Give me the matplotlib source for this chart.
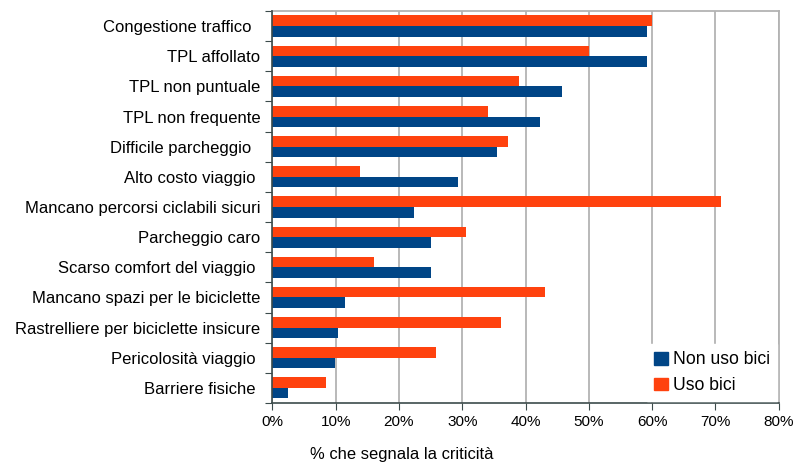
import matplotlib.pyplot as plt
import numpy as np
from matplotlib.patches import Patch
from matplotlib.ticker import PercentFormatter

plt.rcParams['font.family'] = ['Liberation Sans', 'DejaVu Sans']

categorie = [
    "Congestione traffico  ",
    "TPL affollato",
    "TPL non puntuale",
    "TPL non frequente",
    "Difficile parcheggio  ",
    "Alto costo viaggio ",
    "Mancano percorsi ciclabili sicuri",
    "Parcheggio caro",
    "Scarso comfort del viaggio ",
    "Mancano spazi per le biciclette",
    "Rastrelliere per biciclette insicure",
    "Pericolosità viaggio ",
    "Barriere fisiche ",
]
non_uso_bici = [59.2, 59.2, 45.8, 42.3, 35.5, 29.4, 22.3, 25.1, 25.1, 11.5, 10.4, 9.9, 2.4]
uso_bici = [60.0, 50.0, 38.9, 34.0, 37.3, 13.9, 70.9, 30.6, 16.0, 43.1, 36.2, 25.8, 8.5]

blu = "#004586"
arancio = "#ff420e"

fig = plt.figure(figsize=(7.94, 4.63), dpi=100)
ax = fig.add_axes([0.343, 0.1296, 0.6378, 0.8467])

y = np.arange(len(categorie))
h = 0.35
ax.barh(y - h / 2, uso_bici, height=h, color=arancio, zorder=3)
ax.barh(y + h / 2, non_uso_bici, height=h, color=blu, zorder=3)

ax.set_xlim(0, 80)
ax.set_ylim(len(categorie) - 0.5, -0.5)
ax.set_xticks(np.arange(0, 81, 10))
ax.xaxis.set_major_formatter(PercentFormatter(decimals=0))
ax.tick_params(axis='x', labelsize=11, length=5, color="#3c4b4b", pad=4)

# etichette in mezzo, tacche ai bordi delle categorie
ax.set_yticks(np.arange(len(categorie) + 1) - 0.5)
ax.set_yticklabels([])
ax.set_yticks(y, minor=True)
ax.set_yticklabels(categorie, minor=True, fontsize=12)
ax.tick_params(axis='y', which='major', length=5, color="#3c4b4b")
ax.tick_params(axis='y', which='minor', length=0, pad=8.6)

ax.grid(axis='x', color="#b3b3b3", linewidth=1.3, zorder=0)
for s in ['left', 'bottom']:
    ax.spines[s].set_color("#3c4b4b")
    ax.spines[s].set_linewidth(1.2)
    ax.spines[s].set_zorder(4)
for s in ['top', 'right']:
    ax.spines[s].set_color("#b3b3b3")
    ax.spines[s].set_linewidth(1.3)

handles = [Patch(color=blu, label="Non uso bici"), Patch(color=arancio, label="Uso bici")]
leg = ax.legend(handles=handles, loc='lower right', fontsize=12.7, frameon=True,
                handlelength=0.74, handleheight=0.74, handletextpad=0.3,
                labelspacing=0.5, borderaxespad=0.1, fancybox=False)
leg.get_frame().set_edgecolor('white')
leg.get_frame().set_facecolor('white')
leg.get_frame().set_alpha(1)
leg.set_zorder(5)

fig.text(0.5057, 0.003, "% che segnala la criticità", ha='center', va='bottom', fontsize=11.9)

fig.savefig("out.png", dpi=100)
